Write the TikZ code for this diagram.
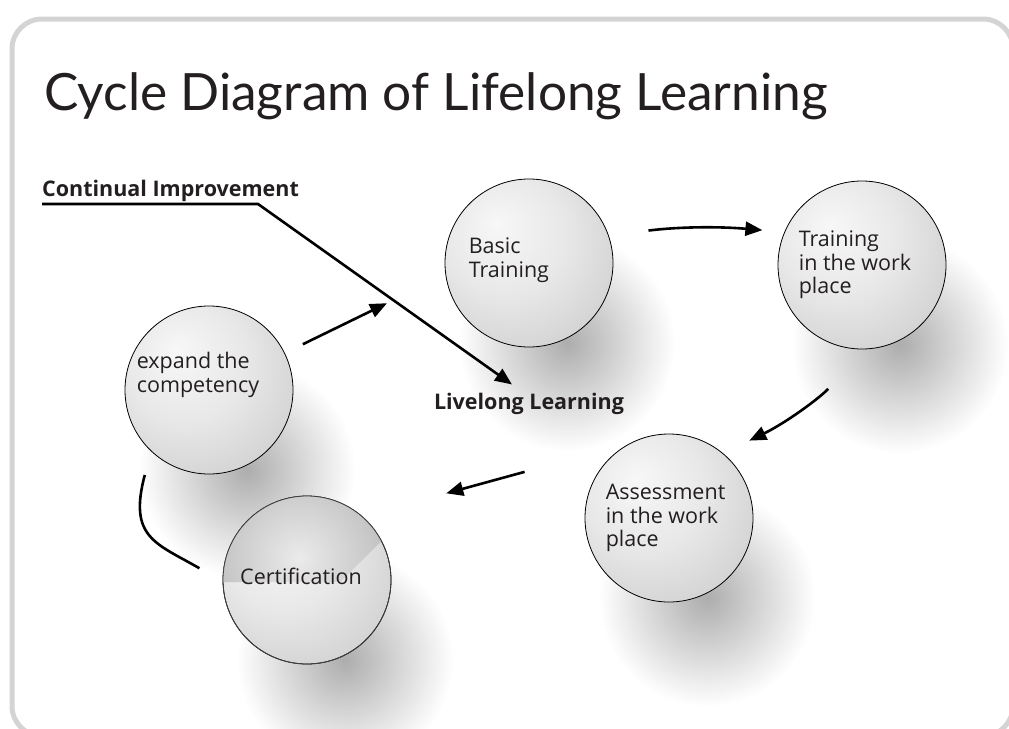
\documentclass[tikz,border=0pt]{standalone}
\usepackage{fontspec}
\setmainfont{Open Sans}
\newfontfamily\titlefont{Lato}
\usetikzlibrary{arrows.meta,fadings,backgrounds}

\definecolor{ink}{HTML}{231F20}
\definecolor{framegray}{HTML}{D4D4D4}

% light grey ball, brightest a little above left of centre
\pgfdeclareradialshading{orbshade}{\pgfpoint{-10bp}{12bp}}{%
  color(0bp)=(black!3); color(18bp)=(black!9); color(42bp)=(black!22); color(62bp)=(black!27)}
\tikzfading[name=softedge, inner color=transparent!0, outer color=transparent!100]

\tikzset{
  orb/.style={circle, draw=black, line width=0.8pt, minimum size=168pt, inner sep=0pt,
    shade, shading=orbshade},
  txt/.style={font=\fontsize{21.5}{23.5}\selectfont, text=ink, align=left, inner sep=0pt},
  tag/.style={font=\bfseries\fontsize{21.5}{24}\selectfont, text=ink, inner sep=0pt},
  flow/.style={line width=2.6pt, -{Triangle[length=17pt,width=14pt]}},
  link/.style={line width=2.6pt},
  shadowblob/.style={black, fill opacity=0.32, path fading=softedge}
}

\begin{document}
\begin{tikzpicture}[x=1pt,y=-1pt]
  \useasboundingbox (0,0) rectangle (1009,728);

  %% title
  \node[anchor=base west, font=\titlefont\fontsize{51.4}{60}\selectfont, text=ink, inner sep=0pt]
    (title) at (44,110) {Cycle Diagram of Lifelong Learning};

  %% the five stages
  \node[orb] (basic)  at (529,263) {};
  \node[orb] (train)  at (862,265) {};
  \node[orb] (assess) at (669,518) {};
  \node[orb] (cert)   at (307,580) {};
  \node[orb] (expand) at (209,390) {};

  %% darker cap on the certification ball
  \begin{scope}
    \clip (cert.center) circle (84);
    \clip (210,480) -- (420,480) -- (420,503) -- (340,582) -- (210,582) -- cycle;
    \shade[inner color=black!8, outer color=black!42] ([shift={(-8,-22)}]cert.center) circle (180);
  \end{scope}
  \draw[black!75, line width=0.8pt] (cert.center) circle (84);

  \node[txt, anchor=west] (basicT)  at ([xshift=24pt,yshift=3pt]basic.west) {Basic\\Training};
  \node[txt, anchor=west] (trainT)  at ([xshift=21pt]train.west) {Training\\in the work\\place};
  \node[txt, anchor=west] (assessT) at ([xshift=21pt]assess.west) {Assessment\\in the work\\place};
  \node[txt, anchor=west] (expandT) at ([xshift=12pt,yshift=15pt]expand.west) {expand the\\competency};
  \node[txt] (certT) at ([xshift=-6pt,yshift=4pt]cert.center) {Certification};

  %% cycle arrows
  \draw[flow, shorten <=20pt, shorten >=65pt] (expand.26) -- (basic.188);
  \draw[flow, shorten <=40pt, shorten >=22pt] (basic.19) to[bend left=6] (train.157);
  \draw[flow, shorten <=55pt, shorten >=29pt] (train.273) to[bend left=10] (assess.50);
  \draw[flow, shorten <=110pt, shorten >=87pt] (assess.117) -- (cert.49);
  \draw[link] ([xshift=-24pt]cert.172) .. controls +(150:50pt) and +(-105:65pt)
    .. ([xshift=-17pt,yshift=-15pt]expand.236);

  %% continual improvement pointer
  \node[tag, anchor=base west] (cont) at (42,196) {Continual Improvement};
  \node[tag, anchor=base] (live) at (529,409) {Livelong Learning};
  \coordinate (kink) at (258,204);
  \draw[flow] (kink -| cont.west) -- (kink) -- ([xshift=-17pt,yshift=8pt]live.north);

  %% frame and soft shadows behind everything
  \begin{scope}[on background layer]
    \draw[framegray, line width=5pt, rounded corners=30pt] (12,19) rectangle (1013,736);
    \foreach \n in {basic,train,assess,cert,expand}
      \fill[shadowblob] ([shift={(38,80)}]\n.center) circle (108);
  \end{scope}
\end{tikzpicture}
\end{document}
